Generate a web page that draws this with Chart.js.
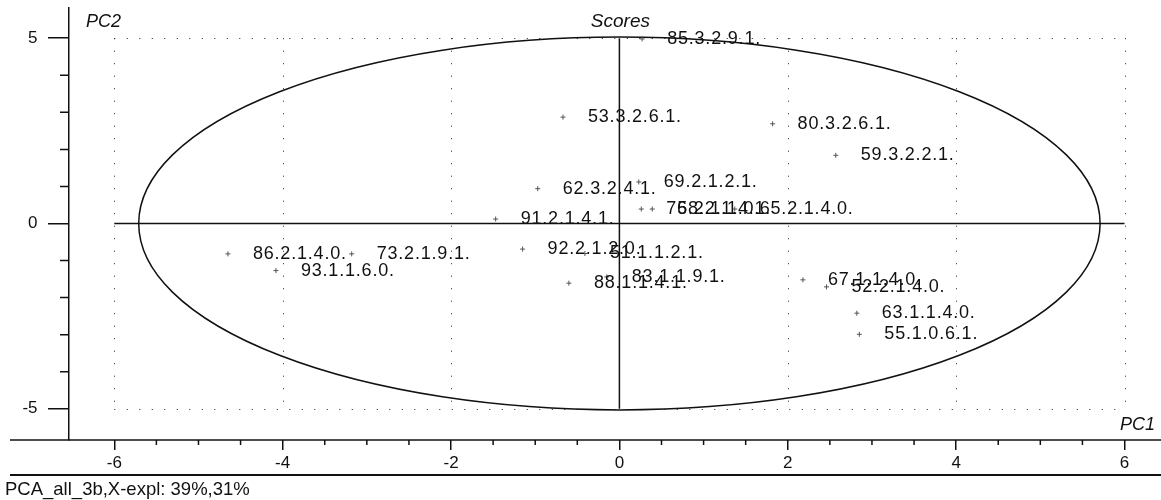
<!DOCTYPE html>
<html>
<head>
<meta charset="utf-8">
<script src="https://cdn.jsdelivr.net/npm/chart.js@4"></script>
<style>
  html, body { margin: 0; padding: 0; background: #fff; }
  canvas { display: block; }
</style>
</head>
<body>
<canvas id="scores" width="1161" height="500"></canvas>
<script>
// sample scores
const sampleNames = ['85.3.2.9.1.', '53.3.2.6.1.', '80.3.2.6.1.', '59.3.2.2.1.', '62.3.2.4.1.',
	'69.2.1.2.1.', '76.2.1.1.0.', '58.2.1.4.1.', '65.2.1.4.0.', '91.2.1.4.1.',
	'86.2.1.4.0.', '73.2.1.9.1.', '93.1.1.6.0.', '92.2.1.2.0.', '51.1.1.2.1.',
	'88.1.1.4.1.', '83.1.1.9.1.', '67.1.1.4.0.', '52.2.1.4.0.', '63.1.1.4.0.', '55.1.0.6.1.'];
const pc1Scores = [0.27, -0.67, 1.82, 2.57, -0.97, 0.23, 0.26, 0.39, 1.37, -1.47,
	-4.65, -3.18, -4.08, -1.15, -0.41, -0.60, -0.15, 2.18, 2.46, 2.82, 2.85];
const pc2Scores = [4.98, 2.87, 2.69, 1.84, 0.94, 1.12, 0.39, 0.39, 0.39, 0.12,
	-0.82, -0.82, -1.27, -0.69, -0.81, -1.61, -1.44, -1.52, -1.71, -2.42, -2.99];

const xTickValues = [-6, -4, -2, 0, 2, 4, 6];
const yTickValues = [-5, 0, 5];
const ellipseAxes = [5.71, 5.03];   // Hotelling ellipse semi-axes (PC1, PC2)

const plotTitle = 'Scores';
const xTitle = 'PC1';
const yTitle = 'PC2';
const footer = 'PCA_all_3b,X-expl: 39%,31%';

const ink = '#111';
const fontFamily = "'Liberation Sans', Arial, sans-serif";

function noPadding(scale) {
	scale.paddingTop = 0;
	scale.paddingBottom = 0;
	scale.paddingLeft = 0;
	scale.paddingRight = 0;
}

const overlay = {
	id: 'overlay',
	beforeDatasetsDraw(chart) {
		const c = chart.ctx;
		const x = chart.scales.x;
		const y = chart.scales.y;
		const px = v => x.getPixelForValue(v);
		const py = v => y.getPixelForValue(v);
		const gx0 = xTickValues[0], gx1 = xTickValues[xTickValues.length - 1];
		const gy0 = yTickValues[0], gy1 = yTickValues[yTickValues.length - 1];

		c.save();
		// dotted grid
		c.strokeStyle = '#222';
		c.lineWidth = 1;
		c.setLineDash([1, 11.5]);
		xTickValues.forEach(v => {
			if (v === 0) return;
			c.beginPath();
			c.moveTo(Math.round(px(v)) + 0.5, py(gy1));
			c.lineTo(Math.round(px(v)) + 0.5, py(gy0));
			c.stroke();
		});
		[gy0, gy1].forEach(v => {
			c.beginPath();
			c.moveTo(px(gx0), Math.round(py(v)) + 0.5);
			c.lineTo(px(gx1), Math.round(py(v)) + 0.5);
			c.stroke();
		});
		c.setLineDash([]);

		// zero cross
		c.strokeStyle = ink;
		c.lineWidth = 1.5;
		c.beginPath();
		c.moveTo(px(gx0), py(0));
		c.lineTo(px(gx1), py(0));
		c.moveTo(px(0), py(gy1));
		c.lineTo(px(0), py(gy0));
		c.stroke();

		// ellipse
		c.beginPath();
		c.ellipse(px(0), py(0), px(ellipseAxes[0]) - px(0), py(0) - py(ellipseAxes[1]), 0, 0, Math.PI * 2);
		c.stroke();

		// x axis line and lower rule
		const xb = x.top;
		c.beginPath();
		c.moveTo(10, xb);
		c.lineTo(chart.width, xb);
		c.stroke();
		c.lineWidth = 2;
		c.beginPath();
		c.moveTo(10, 475);
		c.lineTo(chart.width, 475);
		c.stroke();

		// minor ticks
		c.lineWidth = 1.5;
		c.beginPath();
		for (let v = -6; v <= 6.01; v += 0.5) {
			if (v % 2 === 0) continue;
			c.moveTo(px(v), xb);
			c.lineTo(px(v), xb + 5);
		}
		for (let v = -5; v <= 5; v += 1) {
			if (v % 5 === 0) continue;
			c.moveTo(y.right, py(v));
			c.lineTo(y.right - 9, py(v));
		}
		c.stroke();

		// titles
		c.fillStyle = ink;
		c.textBaseline = 'middle';
		c.font = 'italic 18px ' + fontFamily;
		c.textAlign = 'left';
		c.fillText(yTitle, 86, 22);
		c.textAlign = 'right';
		c.fillText(xTitle, 1155, 425);
		c.textAlign = 'center';
		c.font = 'italic 19px ' + fontFamily;
		c.fillText(plotTitle, px(0) + 1, 22);
		c.textAlign = 'left';
		c.font = '18.5px ' + fontFamily;
		c.fillText(footer, 5, 490);
		c.restore();
	},
	afterDatasetsDraw(chart) {
		const c = chart.ctx;
		const meta = chart.getDatasetMeta(0);
		c.save();
		c.fillStyle = ink;
		c.font = '18px ' + fontFamily;
		c.letterSpacing = '0.8px';
		c.textAlign = 'left';
		c.textBaseline = 'middle';
		meta.data.forEach((pt, i) => {
			c.fillText(sampleNames[i], pt.x + 25, pt.y);
		});
		c.restore();
	}
};

const ctx = document.getElementById('scores');
const scoresChart = new Chart(ctx, {
	type: 'scatter',
	data: {
		datasets: [{
			label: plotTitle,
			data: pc1Scores.map((v, i) => ({ x: v, y: pc2Scores[i] })),
			pointStyle: 'cross',
			pointRadius: 2.5,
			borderWidth: 1,
			borderColor: '#555',
			backgroundColor: '#555'
		}]
	},
	options: {
		responsive: false,
		animation: false,
		devicePixelRatio: 1,
		layout: { padding: { top: 8, left: 0, right: 0, bottom: 0 } },
		plugins: {
			legend: { display: false },
			tooltip: { enabled: false }
		},
		scales: {
			x: {
				type: 'linear',
				min: -6.538,
				max: 6.374,
				afterBuildTicks: s => { s.ticks = xTickValues.map(v => ({ value: v })); },
				afterFit: s => { s.height = 60; noPadding(s); },
				border: { display: false },
				grid: { drawOnChartArea: false, drawTicks: true, tickLength: 10, color: ink, lineWidth: 1.5 },
				ticks: { color: ink, padding: 3, maxRotation: 0, autoSkip: false, font: { family: fontFamily, size: 17 } }
			},
			y: {
				type: 'linear',
				min: -5.842,
				max: 5.815,
				afterBuildTicks: s => { s.ticks = yTickValues.map(v => ({ value: v })); },
				afterFit: s => { s.width = 69; noPadding(s); },
				border: { display: true, color: ink, width: 1.5 },
				grid: { drawOnChartArea: false, drawTicks: true, tickLength: 21, color: ink, lineWidth: 1.5 },
				ticks: { color: ink, padding: 10.5, font: { family: fontFamily, size: 17 } }
			}
		}
	},
	plugins: [overlay]
});
</script>
</body>
</html>
